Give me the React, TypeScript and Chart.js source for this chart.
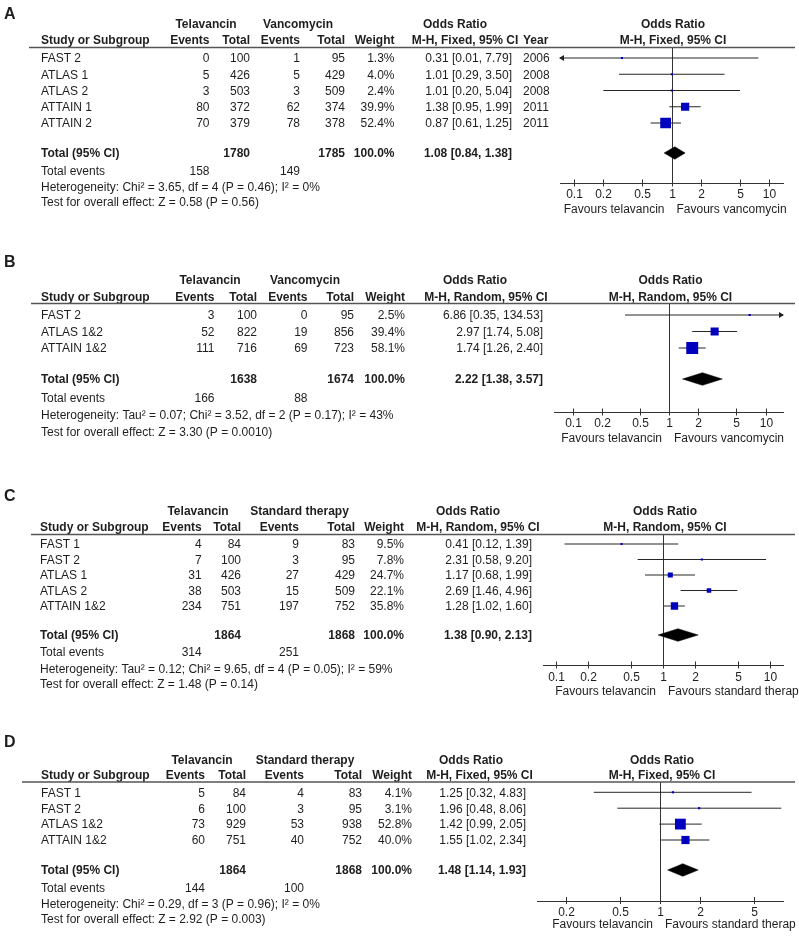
import React, { useEffect, useRef } from "react";
import { Chart, registerables } from "chart.js";
Chart.register(...registerables);

// ---------- Panel A ----------
const studiesA = ["FAST 2", "ATLAS 1", "ATLAS 2", "ATTAIN 1", "ATTAIN 2"];
const telEventsA = [0, 5, 3, 80, 70];
const telTotalsA = [100, 426, 503, 372, 379];
const ctlEventsA = [1, 5, 3, 62, 78];
const ctlTotalsA = [95, 429, 509, 374, 378];
const weightsA = [1.3, 4.0, 2.4, 39.9, 52.4];
const orA = [0.31, 1.01, 1.01, 1.38, 0.87];
const loA = [0.01, 0.29, 0.2, 0.95, 0.61];
const hiA = [7.79, 3.5, 5.04, 1.99, 1.25];
const yearsA = ["2006", "2008", "2008", "2011", "2011"];
const totalA = [1.08, 0.84, 1.38];
const hetA = "Heterogeneity: Chi\u00b2 = 3.65, df = 4 (P = 0.46); I\u00b2 = 0%";
const testA = "Test for overall effect: Z = 0.58 (P = 0.56)";
const ticksA = [0.1, 0.2, 0.5, 1, 2, 5, 10];

// ---------- Panel B ----------
const studiesB = ["FAST 2", "ATLAS 1&2", "ATTAIN 1&2"];
const telEventsB = [3, 52, 111];
const telTotalsB = [100, 822, 716];
const ctlEventsB = [0, 19, 69];
const ctlTotalsB = [95, 856, 723];
const weightsB = [2.5, 39.4, 58.1];
const orB = [6.86, 2.97, 1.74];
const loB = [0.35, 1.74, 1.26];
const hiB = [134.53, 5.08, 2.4];
const totalB = [2.22, 1.38, 3.57];
const hetB = "Heterogeneity: Tau\u00b2 = 0.07; Chi\u00b2 = 3.52, df = 2 (P = 0.17); I\u00b2 = 43%";
const testB = "Test for overall effect: Z = 3.30 (P = 0.0010)";
const ticksB = [0.1, 0.2, 0.5, 1, 2, 5, 10];

// ---------- Panel C ----------
const studiesC = ["FAST 1", "FAST 2", "ATLAS 1", "ATLAS 2", "ATTAIN 1&2"];
const telEventsC = [4, 7, 31, 38, 234];
const telTotalsC = [84, 100, 426, 503, 751];
const ctlEventsC = [9, 3, 27, 15, 197];
const ctlTotalsC = [83, 95, 429, 509, 752];
const weightsC = [9.5, 7.8, 24.7, 22.1, 35.8];
const orC = [0.41, 2.31, 1.17, 2.69, 1.28];
const loC = [0.12, 0.58, 0.68, 1.46, 1.02];
const hiC = [1.39, 9.2, 1.99, 4.96, 1.6];
const totalC = [1.38, 0.9, 2.13];
const hetC = "Heterogeneity: Tau\u00b2 = 0.12; Chi\u00b2 = 9.65, df = 4 (P = 0.05); I\u00b2 = 59%";
const testC = "Test for overall effect: Z = 1.48 (P = 0.14)";
const ticksC = [0.1, 0.2, 0.5, 1, 2, 5, 10];

// ---------- Panel D ----------
const studiesD = ["FAST 1", "FAST 2", "ATLAS 1&2", "ATTAIN 1&2"];
const telEventsD = [5, 6, 73, 60];
const telTotalsD = [84, 100, 929, 751];
const ctlEventsD = [4, 3, 53, 40];
const ctlTotalsD = [83, 95, 938, 752];
const weightsD = [4.1, 3.1, 52.8, 40.0];
const orD = [1.25, 1.96, 1.42, 1.55];
const loD = [0.32, 0.48, 0.99, 1.02];
const hiD = [4.83, 8.06, 2.05, 2.34];
const totalD = [1.48, 1.14, 1.93];
const hetD = "Heterogeneity: Chi\u00b2 = 0.29, df = 3 (P = 0.96); I\u00b2 = 0%";
const testD = "Test for overall effect: Z = 2.92 (P = 0.003)";
const ticksD = [0.2, 0.5, 1, 2, 5];

const totalWeightLabel = "100.0%";

type PanelData = {
  letter: string;
  studies: string[];
  tEv: number[];
  tTot: number[];
  cEv: number[];
  cTot: number[];
  w: number[];
  or: number[];
  lo: number[];
  hi: number[];
  years?: string[];
  total: number[];
  het: string;
  test: string;
  ticks: number[];
  ctlLabel: string;
  method: string;
  favour2: string;
};

type Layout = {
  top: number;
  height: number;
  letterY: number;
  groupY: number;
  colY: number;
  lineY: number;
  lineX0: number;
  firstRowY: number;
  rowPx: number;
  totalY: number;
  eventsY: number;
  hetY: number;
  testY: number;
  axisY: number;
  axisL: number;
  axisR: number;
  xMin: number;
  xMax: number;
  tickY: number;
  favY: number;
  studyX: number;
  cols: number[];
  yearX?: number;
  grp1X: number;
  grp2X: number;
  orHdrX: number;
  mhHdrX: number;
  plotHdrX: number;
};

const panels: { d: PanelData; L: Layout }[] = [
  {
    d: {
      letter: "A", studies: studiesA, tEv: telEventsA, tTot: telTotalsA, cEv: ctlEventsA, cTot: ctlTotalsA,
      w: weightsA, or: orA, lo: loA, hi: hiA, years: yearsA, total: totalA, het: hetA, test: testA,
      ticks: ticksA, ctlLabel: "Vancomycin", method: "M-H, Fixed, 95% CI", favour2: "Favours vancomycin",
    },
    L: {
      top: 0, height: 225, letterY: 13, groupY: 24, colY: 40, lineY: 47.5, lineX0: 29,
      firstRowY: 58, rowPx: 16.25, totalY: 153, eventsY: 170.5, hetY: 186.5, testY: 202,
      axisY: 183.5, axisL: 560, axisR: 783, xMin: 0.0718, xMax: 13.92, tickY: 194, favY: 208.5,
      studyX: 41, cols: [209.5, 250, 300, 345, 394.5, 512], yearX: 523,
      grp1X: 206, grp2X: 298, orHdrX: 455, mhHdrX: 465, plotHdrX: 673,
    },
  },
  {
    d: {
      letter: "B", studies: studiesB, tEv: telEventsB, tTot: telTotalsB, cEv: ctlEventsB, cTot: ctlTotalsB,
      w: weightsB, or: orB, lo: loB, hi: hiB, total: totalB, het: hetB, test: testB,
      ticks: ticksB, ctlLabel: "Vancomycin", method: "M-H, Random, 95% CI", favour2: "Favours vancomycin",
    },
    L: {
      top: 225, height: 230, letterY: 261.5, groupY: 280, colY: 297, lineY: 303.5, lineX0: 31,
      firstRowY: 315, rowPx: 16.5, totalY: 379, eventsY: 398, hetY: 415, testY: 432,
      axisY: 412.5, axisL: 554, axisR: 783, xMin: 0.0643, xMax: 15.18, tickY: 423, favY: 437.5,
      studyX: 41, cols: [214.5, 257, 307.5, 354, 405, 543],
      grp1X: 210, grp2X: 305, orHdrX: 475, mhHdrX: 486, plotHdrX: 670.5,
    },
  },
  {
    d: {
      letter: "C", studies: studiesC, tEv: telEventsC, tTot: telTotalsC, cEv: ctlEventsC, cTot: ctlTotalsC,
      w: weightsC, or: orC, lo: loC, hi: hiC, total: totalC, het: hetC, test: testC,
      ticks: ticksC, ctlLabel: "Standard therapy", method: "M-H, Random, 95% CI", favour2: "Favours standard therap",
    },
    L: {
      top: 455, height: 260, letterY: 495, groupY: 511, colY: 527, lineY: 534.5, lineX0: 31,
      firstRowY: 544, rowPx: 15.5, totalY: 635, eventsY: 652, hetY: 669, testY: 684,
      axisY: 665.5, axisL: 543, axisR: 783, xMin: 0.0756, xMax: 13.23, tickY: 677, favY: 690.5,
      studyX: 40, cols: [201.7, 241, 299, 355, 404, 532],
      grp1X: 198, grp2X: 299.5, orHdrX: 468, mhHdrX: 478, plotHdrX: 665,
    },
  },
  {
    d: {
      letter: "D", studies: studiesD, tEv: telEventsD, tTot: telTotalsD, cEv: ctlEventsD, cTot: ctlTotalsD,
      w: weightsD, or: orD, lo: loD, hi: hiD, total: totalD, het: hetD, test: testD,
      ticks: ticksD, ctlLabel: "Standard therapy", method: "M-H, Fixed, 95% CI", favour2: "Favours standard therap",
    },
    L: {
      top: 715, height: 221, letterY: 741, groupY: 759.3, colY: 775, lineY: 782, lineX0: 22,
      firstRowY: 792.3, rowPx: 15.9, totalY: 870, eventsY: 888, hetY: 903.3, testY: 919,
      axisY: 901, axisL: 537, axisR: 783, xMin: 0.1205, xMax: 8.3, tickY: 912, favY: 923.5,
      studyX: 41, cols: [205, 246, 304, 362, 412, 526],
      grp1X: 202, grp2X: 305, orHdrX: 471, mhHdrX: 479.5, plotHdrX: 662,
    },
  },
];

const FONT = '"Liberation Sans", Arial, Helvetica, sans-serif';
const TEXT = "#1e1e1e";
const fmtCI = (e: number, l: number, h: number) => `${e.toFixed(2)} [${l.toFixed(2)}, ${h.toFixed(2)}]`;
const sum = (a: number[]) => a.reduce((s, v) => s + v, 0);

function forestPlugin(d: PanelData, L: Layout) {
  return {
    id: "forest" + d.letter,
    beforeDatasetsDraw(chart: any) {
      const ctx = chart.ctx;
      const xs = chart.scales.x;
      const x1 = Math.round(xs.getPixelForValue(1)) + 0.5;
      ctx.save();
      ctx.strokeStyle = "#333";
      ctx.lineWidth = 1;
      ctx.beginPath();
      ctx.moveTo(x1, chart.chartArea.top);
      ctx.lineTo(x1, chart.chartArea.bottom);
      ctx.stroke();
      ctx.restore();
    },
    afterDatasetsDraw(chart: any) {
      const ctx = chart.ctx;
      const ys = chart.scales.y;
      const ca = chart.chartArea;
      ctx.save();
      ctx.fillStyle = "#222";
      d.or.forEach((_, i) => {
        const y = ys.getPixelForValue(i);
        if (d.lo[i] < L.xMin) {
          ctx.beginPath();
          ctx.moveTo(ca.left - 1, y);
          ctx.lineTo(ca.left + 4, y - 3);
          ctx.lineTo(ca.left + 4, y + 3);
          ctx.closePath();
          ctx.fill();
        }
        if (d.hi[i] > L.xMax) {
          ctx.beginPath();
          ctx.moveTo(ca.right + 1, y);
          ctx.lineTo(ca.right - 4, y - 3);
          ctx.lineTo(ca.right - 4, y + 3);
          ctx.closePath();
          ctx.fill();
        }
      });
      ctx.restore();
    },
    afterDraw(chart: any) {
      const ctx = chart.ctx;
      const xs = chart.scales.x;
      const ys = chart.scales.y;
      const off = L.top;
      const T = (s: string, x: number, y: number, align: CanvasTextAlign = "left", bold = false, size = 12) => {
        ctx.font = `${bold ? "bold " : ""}${size}px ${FONT}`;
        ctx.textAlign = align;
        ctx.textBaseline = "alphabetic";
        ctx.fillStyle = TEXT;
        ctx.fillText(s, x, y + size * 0.36);
      };
      ctx.save();
      T(d.letter, 4, L.letterY - off, "left", true, 16);
      T("Telavancin", L.grp1X, L.groupY - off, "center", true);
      T(d.ctlLabel, L.grp2X, L.groupY - off, "center", true);
      T("Odds Ratio", L.orHdrX, L.groupY - off, "center", true);
      T("Odds Ratio", L.plotHdrX, L.groupY - off, "center", true);
      const c = L.cols;
      const hy = L.colY - off;
      T("Study or Subgroup", L.studyX, hy, "left", true);
      T("Events", c[0], hy, "right", true);
      T("Total", c[1], hy, "right", true);
      T("Events", c[2], hy, "right", true);
      T("Total", c[3], hy, "right", true);
      T("Weight", c[4], hy, "right", true);
      T(d.method, L.mhHdrX, hy, "center", true);
      if (L.yearX !== undefined) T("Year", L.yearX, hy, "left", true);
      T(d.method, L.plotHdrX, hy, "center", true);
      ctx.strokeStyle = "#555";
      ctx.lineWidth = 1.5;
      ctx.beginPath();
      ctx.moveTo(L.lineX0, L.lineY - off);
      ctx.lineTo(795, L.lineY - off);
      ctx.stroke();
      d.studies.forEach((s, i) => {
        const y = ys.getPixelForValue(i);
        T(s, L.studyX, y);
        T(String(d.tEv[i]), c[0], y, "right");
        T(String(d.tTot[i]), c[1], y, "right");
        T(String(d.cEv[i]), c[2], y, "right");
        T(String(d.cTot[i]), c[3], y, "right");
        T(d.w[i].toFixed(1) + "%", c[4], y, "right");
        T(fmtCI(d.or[i], d.lo[i], d.hi[i]), c[5], y, "right");
        if (d.years && L.yearX !== undefined) T(d.years[i], L.yearX, y, "left");
      });
      const ty = L.totalY - off;
      T("Total (95% CI)", L.studyX, ty, "left", true);
      T(String(sum(d.tTot)), c[1], ty, "right", true);
      T(String(sum(d.cTot)), c[3], ty, "right", true);
      T(totalWeightLabel, c[4], ty, "right", true);
      T(fmtCI(d.total[0], d.total[1], d.total[2]), c[5], ty, "right", true);
      const ey = L.eventsY - off;
      T("Total events", L.studyX, ey);
      T(String(sum(d.tEv)), c[0], ey, "right");
      T(String(sum(d.cEv)), c[2], ey, "right");
      T(d.het, L.studyX, L.hetY - off);
      T(d.test, L.studyX, L.testY - off);
      const ay = chart.chartArea.bottom;
      ctx.strokeStyle = "#333";
      ctx.lineWidth = 1;
      d.ticks.forEach((t) => {
        const px = Math.round(xs.getPixelForValue(t)) + 0.5;
        ctx.beginPath();
        ctx.moveTo(px, ay - 4);
        ctx.lineTo(px, ay + 3);
        ctx.stroke();
        T(String(t), px, L.tickY - off, "center");
      });
      const x1 = xs.getPixelForValue(1);
      T("Favours telavancin", x1 - 7, L.favY - off, "right");
      T(d.favour2, x1 + 5, L.favY - off, "left");
      ctx.restore();
    },
  };
}

function buildConfig(d: PanelData, L: Layout): any {
  const totalV = (L.totalY - L.firstRowY) / L.rowPx;
  const yMin = (L.lineY - L.firstRowY) / L.rowPx;
  const yMax = (L.axisY - L.firstRowY) / L.rowPx;
  const hh = 6.3 / L.rowPx;
  const ciSets = d.or.map((_, i) => ({
    type: "line",
    data: [
      { x: d.lo[i], y: i },
      { x: d.hi[i], y: i },
    ],
    borderColor: "#262626",
    borderWidth: 1,
    pointRadius: 0,
    showLine: true,
    fill: false,
    order: 3,
    clip: 0,
  }));
  const squares = {
    type: "scatter",
    data: d.or.map((v, i) => ({ x: v, y: i })),
    pointStyle: "rect",
    pointRadius: d.w.map((w) => Math.max(2.2, 0.205 * w) / Math.SQRT2),
    backgroundColor: "#0000BE",
    borderWidth: 0,
    order: 1,
  };
  const diamond = {
    type: "line",
    data: [
      { x: d.total[1], y: totalV },
      { x: d.total[0], y: totalV - hh },
      { x: d.total[2], y: totalV },
      { x: d.total[0], y: totalV + hh },
      { x: d.total[1], y: totalV },
    ],
    fill: "shape",
    backgroundColor: "#000",
    borderColor: "#000",
    borderWidth: 0.5,
    pointRadius: 0,
    showLine: true,
    tension: 0,
    order: 2,
  };
  return {
    type: "scatter",
    data: { datasets: [squares, diamond, ...ciSets] },
    options: {
      animation: false,
      responsive: false,
      maintainAspectRatio: false,
      devicePixelRatio: 1,
      events: [],
      layout: {
        padding: {
          left: L.axisL,
          right: 799 - L.axisR,
          top: L.lineY - L.top,
          bottom: L.top + L.height - L.axisY,
        },
      },
      plugins: { legend: { display: false }, tooltip: { enabled: false }, title: { display: false } },
      scales: {
        x: {
          type: "logarithmic",
          min: L.xMin,
          max: L.xMax,
          bounds: "data",
          display: true,
          grid: { display: false, drawTicks: false },
          ticks: { display: false },
          title: { display: false },
          border: { display: true, color: "#333", width: 1 },
        },
        y: {
          type: "linear",
          min: yMin,
          max: yMax,
          reverse: true,
          display: false,
        },
      },
    },
    plugins: [forestPlugin(d, L)],
  };
}

function Panel({ d, L }: { d: PanelData; L: Layout }) {
  const ref = useRef<HTMLCanvasElement>(null);
  useEffect(() => {
    const chart = new Chart(ref.current as HTMLCanvasElement, buildConfig(d, L));
    return () => chart.destroy();
  }, []);
  return (
    <canvas
      ref={ref}
      width={799}
      height={L.height}
      style={{ position: "absolute", left: 0, top: L.top, width: 799, height: L.height, display: "block" }}
    />
  );
}

export default function App() {
  return (
    <div style={{ position: "absolute", left: 0, top: 0, width: 799, height: 936, background: "#fff" }}>
      {panels.map((p) => (
        <Panel key={p.d.letter} d={p.d} L={p.L} />
      ))}
    </div>
  );
}
